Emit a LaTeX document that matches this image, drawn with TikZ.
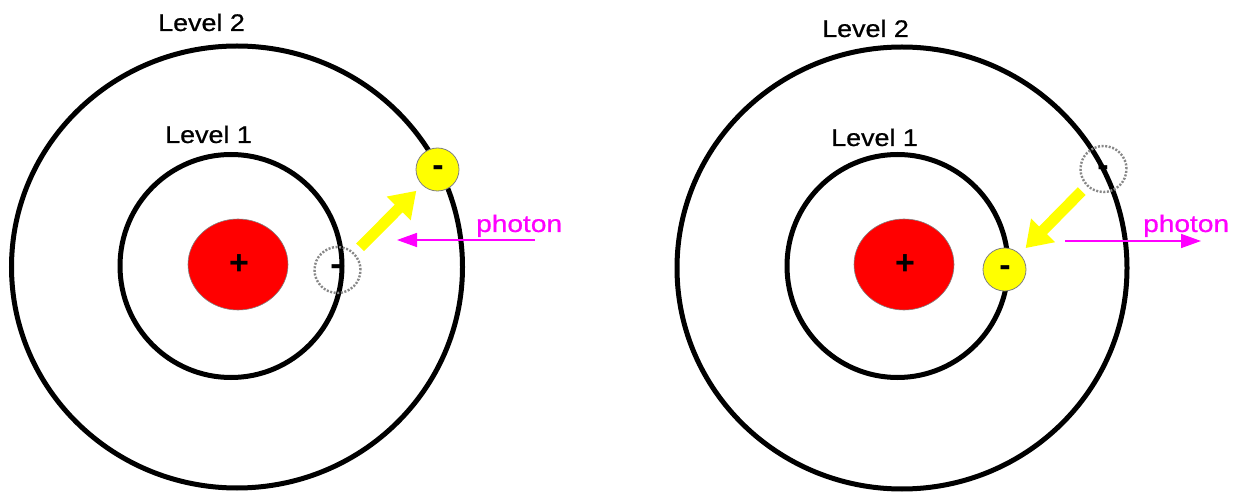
\documentclass[tikz,border=0pt]{standalone}
\usepackage{fontspec}
\setmainfont{Liberation Sans}
\newfontfamily\heavyfont{Liberation Sans}[FakeBold=0.6]
\usetikzlibrary{arrows.meta,shapes.geometric}
\definecolor{photonc}{RGB}{255,0,255}
\definecolor{eyellow}{RGB}{255,255,0}
\definecolor{nucred}{RGB}{255,0,0}
\definecolor{dotgray}{RGB}{135,135,135}
\begin{document}
\begin{tikzpicture}[x=1pt,y=-1pt,
  orbit/.style={ellipse, draw=black, line width=5pt, inner sep=0pt, outer sep=0pt},
  nucleus/.style={ellipse, draw=gray, line width=0.6pt, fill=nucred, inner sep=0pt,
    minimum width=100pt, minimum height=91pt},
  sign/.style={inner sep=0pt, font=\fontsize{34}{34}\selectfont\bfseries},
  electron/.style={circle, draw=gray, line width=0.8pt, fill=eyellow, inner sep=0pt,
    minimum size=43pt},
  oldpos/.style={circle, draw=dotgray, line width=2.4pt, dash pattern=on 2pt off 1.6pt,
    inner sep=0pt, minimum size=46pt},
  jump/.style={draw=eyellow, line width=11pt, -{Triangle[length=25pt,width=32pt]}},
  photonarrow/.style={draw=photonc, line width=1.5pt, -{Triangle[length=20pt,width=14pt]}},
  label/.style={anchor=base west, inner sep=0pt, font=\heavyfont\fontsize{24}{24}\selectfont},
  photonlabel/.style={anchor=base west, inner sep=0pt, text=photonc, font=\heavyfont\fontsize{24}{24}\selectfont}
]
\useasboundingbox (0,0) rectangle (1236,502);
\fill[white] (0,0) rectangle (1236,502);

% ---------- left atom (absorption) ----------
\node[sign] (mL) at (336,270) {-};
\node[orbit, minimum width=451pt, minimum height=442pt] (o2L) at (237,267) {};
\node[orbit, minimum width=222pt, minimum height=223pt] (o1L) at (231,266) {};
\node[nucleus] (nL) at (238,264.5) {};
\node[sign] (plL) at (239,265) {+};
\node[oldpos] (dL) at (337.5,270) {};
\node[electron] (eL) at (437.5,169.5) {};
\node[sign] (emL) at (438,171) {-};
\draw[jump, shorten <=32pt, shorten >=30pt] (dL.center) -- (eL.center);
\coordinate (pL1) at (535,240);
\coordinate (pL2) at (397,240);
\draw[photonarrow] (pL1) -- (pL2);
\node[photonlabel] (tL) at (476,232) {\scalebox{1.17}[1]{photon}};
\node[label] (l2L) at (158,31) {\scalebox{1.12}[1]{Level 2}};
\node[label] (l1L) at (165,143) {\scalebox{1.12}[1]{Level 1}};

% ---------- right atom (emission) ----------
\node[sign] (mR) at (1103,171) {-};
\node[orbit, minimum width=450pt, minimum height=442pt] (o2R) at (902,268) {};
\node[orbit, minimum width=221pt, minimum height=223pt] (o1R) at (897.5,266) {};
\node[nucleus] (nR) at (904,264.5) {};
\node[sign] (plR) at (905,265) {+};
\node[oldpos] (dR) at (1103.5,169) {};
\node[electron] (eR) at (1004.5,269.5) {};
\node[sign] (emR) at (1005,271) {-};
\draw[jump, shorten <=31pt, shorten >=30pt] (dR.center) -- (eR.center);
\coordinate (pR1) at (1065,241);
\coordinate (pR2) at (1201,241);
\draw[photonarrow] (pR1) -- (pR2);
\node[photonlabel] (tR) at (1143,232) {\scalebox{1.17}[1]{photon}};
\node[label] (l2R) at (822,37) {\scalebox{1.12}[1]{Level 2}};
\node[label] (l1R) at (831,146) {\scalebox{1.12}[1]{Level 1}};
\end{tikzpicture}
\end{document}
